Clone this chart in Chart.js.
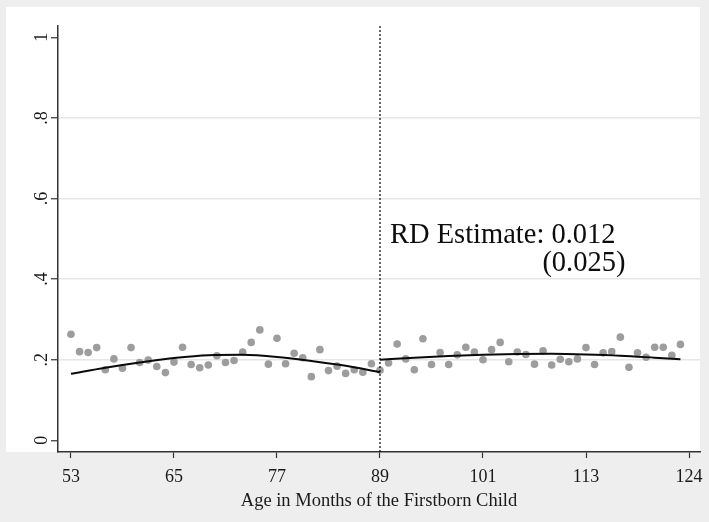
<!DOCTYPE html>
<html>
<head>
<meta charset="utf-8">
<script src="https://cdn.jsdelivr.net/npm/chart.js@4/dist/chart.umd.min.js"></script>
<style>
  html, body { margin: 0; padding: 0; background: #eeeeee; }
  #wrap { width: 709px; height: 522px; position: relative; }
</style>
</head>
<body>
<div id="wrap"><canvas id="rdChart"></canvas></div>
<script>
/* ================= DATA ================= */

// binned means, months 53..89 (left of cutoff) and 90..124 (right)
const leftMonths = [53,54,55,56,57,58,59,60,61,62,63,64,65,66,67,68,69,70,71,72,73,74,75,76,77,78,79,80,81,82,83,84,85,86,87,88,89];
const leftMeans = [0.263,0.220,0.218,0.230,0.175,0.202,0.179,0.230,0.193,0.199,0.183,0.168,0.194,0.231,0.188,0.180,0.187,0.210,0.193,0.198,0.219,0.243,0.274,0.189,0.253,0.190,0.216,0.205,0.158,0.225,0.173,0.184,0.166,0.175,0.169,0.190,0.174];

const rightMonths = [90,91,92,93,94,95,96,97,98,99,100,101,102,103,104,105,106,107,108,109,110,111,112,113,114,115,116,117,118,119,120,121,122,123,124];
const rightMeans = [0.192,0.239,0.202,0.175,0.252,0.188,0.218,0.188,0.212,0.231,0.219,0.200,0.225,0.243,0.195,0.219,0.213,0.189,0.222,0.187,0.201,0.195,0.202,0.230,0.188,0.217,0.220,0.256,0.181,0.217,0.206,0.231,0.231,0.211,0.238];

// fitted curves
const leftFitX = [53,57,61,65,69,73,77,81,85,89];
const leftFitY = [0.165,0.180,0.193,0.204,0.211,0.212,0.207,0.197,0.185,0.169];
const rightFitX = [89,93,97,101,105,109,113,117,121,124];
const rightFitY = [0.200,0.205,0.209,0.212,0.214,0.2145,0.213,0.210,0.205,0.201];

const cutoff = 89;
const xTickValues = [53,65,77,89,101,113,125];
const xTickLabels = ["53","65","77","89","101","113","124"];
const yTickValues = [0,0.2,0.4,0.6,0.8,1];
const yTickLabels = ["0",".2",".4",".6",".8","1"];

const X_MIN = 51.49, X_MAX = 126.28;
const Y_MIN = -0.029, Y_MAX = 1.028;

const serif = "'Liberation Serif', 'DejaVu Serif', serif";

const toPoints = (xs, ys) => xs.map((x, i) => ({ x: x, y: ys[i] }));

/* ================= PLUGINS ================= */

const backdrop = {
  id: "backdrop",
  beforeDraw(chart) {
    const c = chart.ctx;
    c.save();
    c.fillStyle = "#eeeeee";
    c.fillRect(0, 0, chart.width, chart.height);
    c.fillStyle = "#ffffff";
    c.fillRect(6, 7, chart.chartArea.right - 6, chart.chartArea.bottom - 7);
    c.restore();
  }
};

const extras = {
  id: "extras",
  afterDraw(chart) {
    const c = chart.ctx;
    const xs = chart.scales.x, ys = chart.scales.y;
    c.save();
    // rotated y labels
    c.fillStyle = "#1a1a1a";
    c.font = "18px " + serif;
    c.textAlign = "center";
    c.textBaseline = "middle";
    yTickValues.forEach((v, i) => {
      c.save();
      c.translate(41, ys.getPixelForValue(v));
      c.rotate(-Math.PI / 2);
      c.fillText(yTickLabels[i], 0, 1);
      c.restore();
    });
    // RD annotation
    c.font = "28.5px " + serif;
    c.fillStyle = "#0d0d0d";
    c.textBaseline = "middle";
    c.textAlign = "left";
    c.fillText("RD Estimate: 0.012", xs.getPixelForValue(cutoff) + 10, ys.getPixelForValue(0.507));
    c.textAlign = "right";
    c.fillText("(0.025)", xs.getPixelForValue(117.6), ys.getPixelForValue(0.438));
    c.restore();
  }
};

/* ================= CHART ================= */

const ctx = document.getElementById("rdChart").getContext("2d");

new Chart(ctx, {
  type: "scatter",
  data: {
    datasets: [
      {
        label: "cutoff",
        type: "line",
        data: [{ x: cutoff, y: Y_MIN }, { x: cutoff, y: Y_MAX }],
        borderColor: "#000",
        borderWidth: 1.2,
        borderDash: [2, 2],
        pointRadius: 0
      },
      {
        label: "left fit",
        type: "line",
        data: toPoints(leftFitX, leftFitY),
        borderColor: "#0a0a0a",
        borderWidth: 2,
        cubicInterpolationMode: "monotone",
        pointRadius: 0
      },
      {
        label: "right fit",
        type: "line",
        data: toPoints(rightFitX, rightFitY),
        borderColor: "#0a0a0a",
        borderWidth: 2,
        cubicInterpolationMode: "monotone",
        pointRadius: 0
      },
      {
        label: "left bins",
        data: toPoints(leftMonths, leftMeans),
        backgroundColor: "#9d9d9d",
        borderWidth: 0,
        pointRadius: 3.8
      },
      {
        label: "right bins",
        data: toPoints(rightMonths, rightMeans),
        backgroundColor: "#9d9d9d",
        borderWidth: 0,
        pointRadius: 3.8
      }
    ]
  },
  options: {
    responsive: true,
    maintainAspectRatio: false,
    animation: false,
    layout: { padding: { top: 26, right: 9, left: 0, bottom: 0 } },
    plugins: {
      legend: { display: false },
      tooltip: { enabled: false }
    },
    scales: {
      x: {
        type: "linear",
        min: X_MIN,
        max: X_MAX,
        afterBuildTicks: (s) => { s.ticks = xTickValues.map(v => ({ value: v })); },
        afterFit: (s) => { s.height = 70; s.paddingLeft = 0; s.paddingRight = 0; },
        border: { color: "#333", width: 1.5 },
        grid: { drawOnChartArea: false, drawTicks: true, tickLength: 6, tickColor: "#333", tickWidth: 1.2 },
        ticks: {
          color: "#1a1a1a",
          font: { family: serif, size: 18 },
          padding: 8,
          maxRotation: 0,
          callback: (v, i) => xTickLabels[i]
        },
        title: {
          display: true,
          text: "Age in Months of the Firstborn Child",
          color: "#1a1a1a",
          font: { family: serif, size: 18.5 },
          padding: { top: 0, bottom: 10 }
        }
      },
      y: {
        type: "linear",
        min: Y_MIN,
        max: Y_MAX,
        afterBuildTicks: (s) => { s.ticks = yTickValues.map(v => ({ value: v })); },
        afterFit: (s) => { s.width = 58; },
        border: { color: "#333", width: 1.5 },
        grid: {
          color: (c) => (c.tick && c.tick.value > 0 && c.tick.value < 1 ? "#e6e6e6" : "rgba(0,0,0,0)"),
          lineWidth: 1.5,
          drawTicks: true,
          tickLength: 7,
          tickColor: "#333",
          tickWidth: 1.2
        },
        ticks: { display: false }
      }
    }
  },
  plugins: [backdrop, extras]
});
</script>
</body>
</html>
